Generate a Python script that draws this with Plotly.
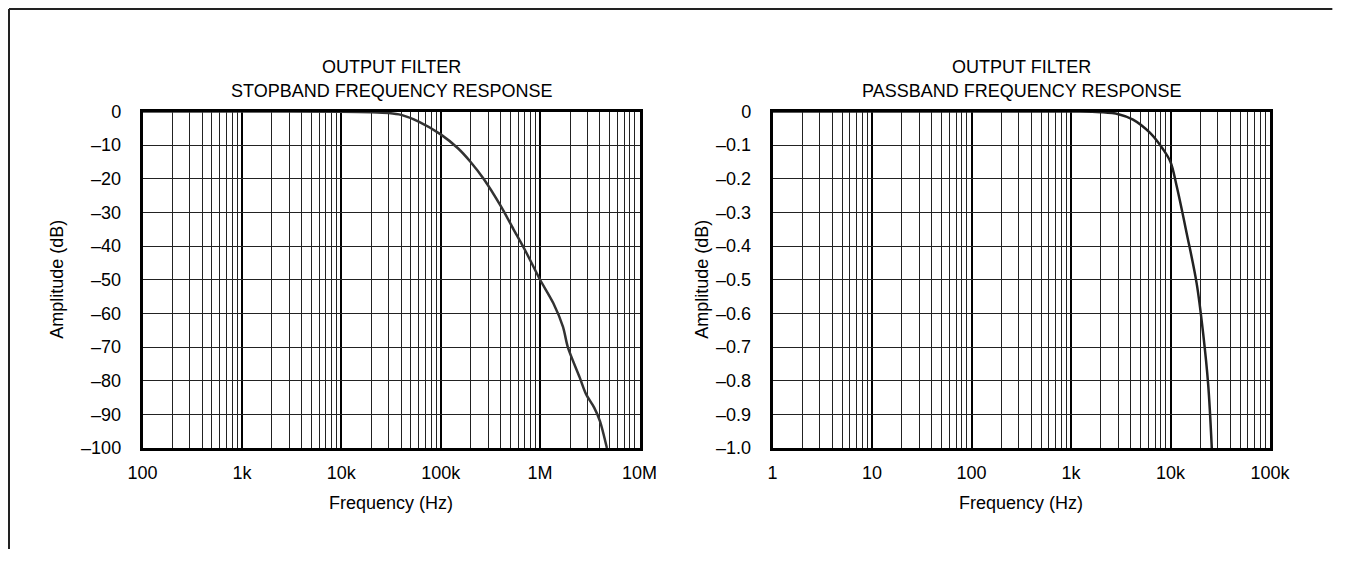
"""
Output filter frequency response: stopband and passband, log frequency axes.
"""

#%% IMPORTS

import plotly.graph_objects as go

#%% DATA

stop_freq = [100, 1e3, 1e4, 2e4, 3e4, 4e4, 6e4, 1e5, 1.5e5, 2e5, 2.7e5,
             4e5, 5.4e5, 7e5, 1e6, 1.36e6, 1.7e6, 1.9e6, 2.5e6, 2.9e6,
             3.5e6, 4e6, 4.7e6]
stop_db = [0, 0, -0.05, -0.2, -0.45, -1.0, -3.0, -6.8, -11, -15, -20,
           -28, -35, -41, -50, -57, -64, -70, -79, -84, -88, -92, -100]

pass_freq = [1, 1000, 2000, 3000, 4200, 6200, 8450, 1e4, 1.15e4, 1.45e4,
             1.83e4, 2.13e4, 2.39e4, 2.6e4]
pass_db = [0, 0, -0.002, -0.008, -0.024, -0.063, -0.113, -0.15, -0.22,
           -0.36, -0.51, -0.66, -0.81, -1.0]

stop_xticks = [100, 1e3, 1e4, 1e5, 1e6, 1e7]
stop_xlabels = ['100', '1k', '10k', '100k', '1M', '10M']
stop_yticks = [0, -10, -20, -30, -40, -50, -60, -70, -80, -90, -100]
stop_ylabels = ['0', '–10', '–20', '–30', '–40', '–50', '–60', '–70',
                '–80', '–90', '–100']

pass_xticks = [1, 10, 100, 1e3, 1e4, 1e5]
pass_xlabels = ['1', '10', '100', '1k', '10k', '100k']
pass_yticks = [0, -0.1, -0.2, -0.3, -0.4, -0.5, -0.6, -0.7, -0.8, -0.9, -1.0]
pass_ylabels = ['0', '–0.1', '–0.2', '–0.3', '–0.4', '–0.5', '–0.6',
                '–0.7', '–0.8', '–0.9', '–1.0']

titles = [('OUTPUT FILTER', 'STOPBAND FREQUENCY RESPONSE'),
          ('OUTPUT FILTER', 'PASSBAND FREQUENCY RESPONSE')]

#%% HELPERS

# page body has an 8px margin; keep the figure a bit smaller than the
# window so no scrollbar shows up
PAD = 8
W, H = 1347 - 2 * PAD - 4, 561 - 2 * PAD - 4
FONT = dict(family='Liberation Sans, Arial, sans-serif', size=18, color='black')


def px_x(x):
    # page pixel -> paper fraction
    return (x - PAD) / W


def px_y(y):
    return (H - (y - PAD)) / H


def minor_vals(lo_exp, hi_exp):
    return [m * 10 ** e for e in range(lo_exp, hi_exp) for m in range(2, 10)]


def x_axis(domain, rng, ticks, labels, minors, anchor):
    return dict(
        type='log', domain=domain, range=rng, anchor=anchor,
        tickmode='array', tickvals=ticks, ticktext=labels,
        ticks='', ticklabelstandoff=7, tickfont=FONT,
        showgrid=True, gridcolor='black', gridwidth=2,
        minor=dict(tickvals=minors, showgrid=True,
                   gridcolor='#222', gridwidth=1, ticks=''),
        showline=True, linecolor='black', linewidth=2.5, mirror=True,
        zeroline=False, automargin=False, fixedrange=True,
    )


def y_axis(domain, rng, ticks, labels, anchor):
    return dict(
        domain=domain, range=rng, anchor=anchor,
        tickmode='array', tickvals=ticks, ticktext=labels,
        ticks='', ticklabelstandoff=15, tickfont=FONT,
        showgrid=True, gridcolor='#222', gridwidth=1,
        showline=True, linecolor='black', linewidth=2.5, mirror=True,
        zeroline=False, automargin=False, fixedrange=True,
    )

#%% FIGURE

left_x = [px_x(142.5), px_x(639.5)]
right_x = [px_x(772.5), px_x(1270)]
y_dom = [px_y(448), px_y(111.5)]

fig = go.Figure()

fig.add_trace(go.Scatter(
    x=stop_freq, y=stop_db, mode='lines',
    line=dict(color='#333', width=2.5, shape='spline', smoothing=0.8),
    xaxis='x', yaxis='y', showlegend=False,
))
fig.add_trace(go.Scatter(
    x=pass_freq, y=pass_db, mode='lines',
    line=dict(color='#222', width=2.5, shape='spline', smoothing=1.0),
    xaxis='x2', yaxis='y2', showlegend=False,
))

annotations = []
for (line1, line2), dom, ytitle_x in zip(titles, [left_x, right_x], [57, 702]):
    cx = (dom[0] + dom[1]) / 2
    annotations += [
        dict(text=line1, x=cx, y=px_y(67), xref='paper', yref='paper',
             showarrow=False, font=FONT, xanchor='center', yanchor='middle'),
        dict(text=line2, x=cx, y=px_y(91), xref='paper', yref='paper',
             showarrow=False, font=FONT, xanchor='center', yanchor='middle'),
        dict(text='Frequency (Hz)', x=cx, y=px_y(503), xref='paper',
             yref='paper', showarrow=False, font=FONT,
             xanchor='center', yanchor='middle'),
        dict(text='Amplitude (dB)', x=px_x(ytitle_x),
             y=(y_dom[0] + y_dom[1]) / 2, xref='paper', yref='paper',
             showarrow=False, font=FONT, textangle=-90,
             xanchor='center', yanchor='middle'),
    ]

# outer frame: left edge and a top edge running to the right of the page
frame = dict(color='#222', width=2)
fig.update_layout(
    width=W, height=H, autosize=False,
    margin=dict(l=0, r=0, t=0, b=0),
    paper_bgcolor='white', plot_bgcolor='white',
    font=FONT,
    xaxis=x_axis(left_x, [2, 7], stop_xticks, stop_xlabels,
                 minor_vals(2, 7), 'y'),
    yaxis=y_axis(y_dom, [-100, 0], stop_yticks, stop_ylabels, 'x'),
    xaxis2=x_axis(right_x, [0, 5], pass_xticks, pass_xlabels,
                  minor_vals(0, 5), 'y2'),
    yaxis2=y_axis(y_dom, [-1, 0], pass_yticks, pass_ylabels, 'x2'),
    annotations=annotations,
    shapes=[
        dict(type='line', xref='paper', yref='paper',
             x0=1 / W, x1=0.998, y0=1 - 1 / H, y1=1 - 1 / H, line=frame),
        dict(type='line', xref='paper', yref='paper',
             x0=1 / W, x1=1 / W, y0=0, y1=1 - 1 / H, line=frame),
    ],
)

fig.write_html('out.html')
